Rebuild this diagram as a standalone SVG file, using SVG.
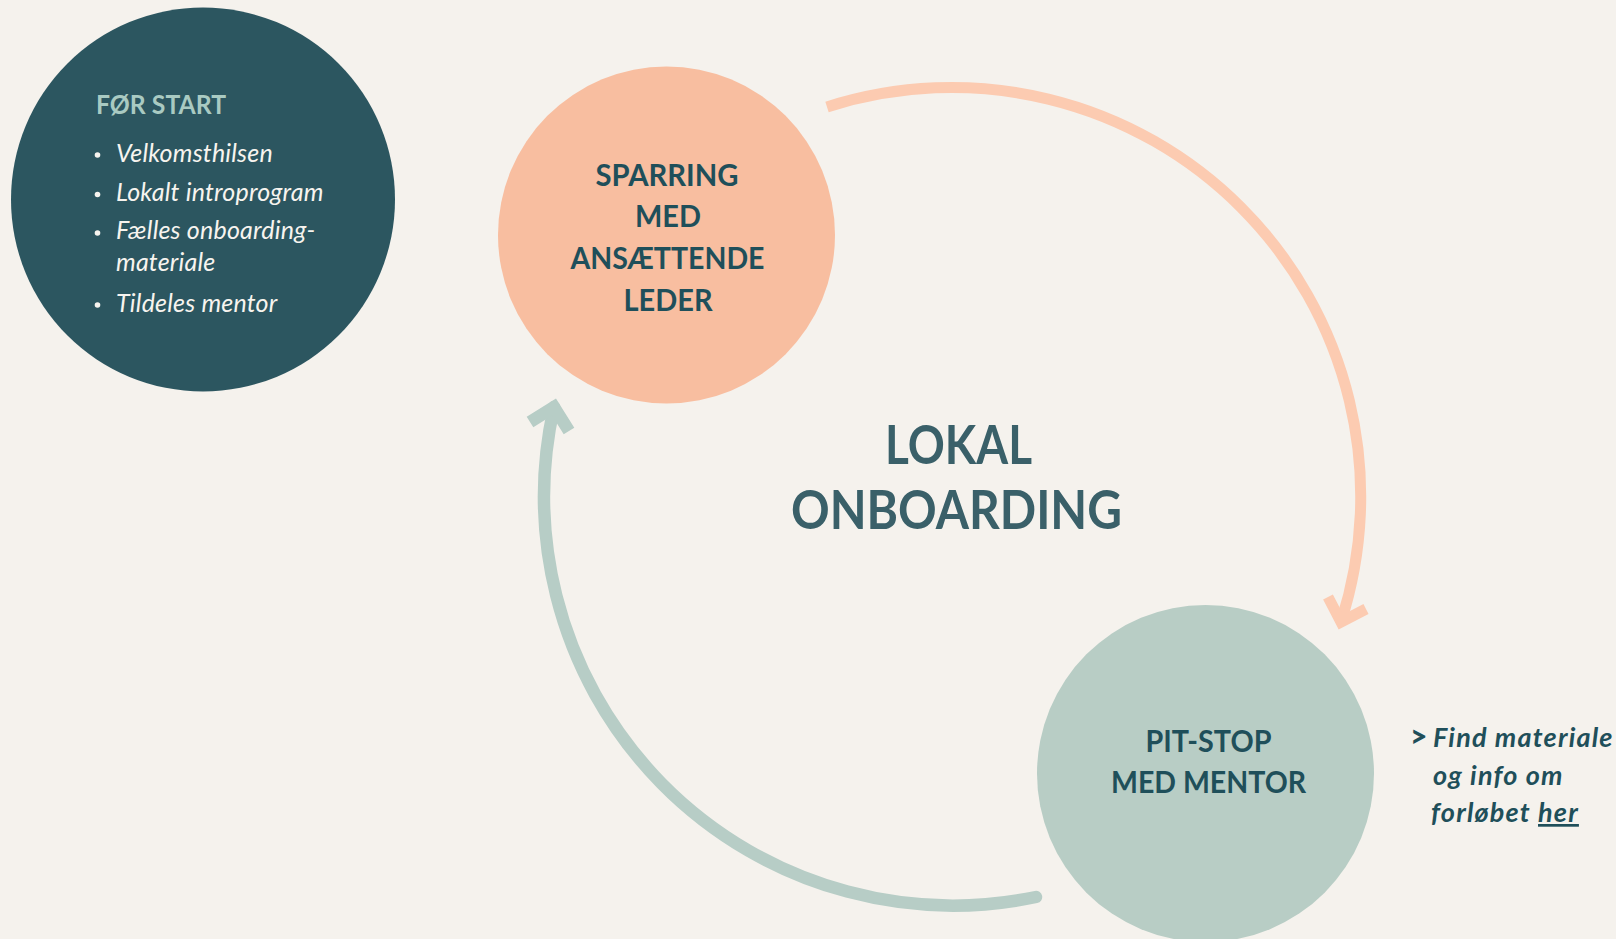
<svg xmlns="http://www.w3.org/2000/svg" width="1616" height="939" viewBox="0 0 1616 939">
<defs>
<style>
.lbl{font-family:Lato,"Open Sans","DejaVu Sans",sans-serif;font-weight:700;fill:#1f4f5a;text-anchor:middle}
.node31{font-size:31px}
.title{font-family:Lato,"Open Sans","DejaVu Sans",sans-serif;font-weight:700;font-size:53px;fill:#3a6069;text-anchor:middle}
.head{font-family:Lato,"Open Sans","DejaVu Sans",sans-serif;font-weight:700;font-size:26px;fill:#a9cac2}
.item{font-family:Lato,"Open Sans","DejaVu Sans",sans-serif;font-style:italic;font-size:25px;letter-spacing:0.2px;fill:#f7f4ef}
.note{font-family:Lato,"Open Sans","DejaVu Sans",sans-serif;font-style:italic;font-weight:700;font-size:27px;letter-spacing:1.2px;fill:#1f4f5a}
.chev{font-family:Lato,"Open Sans","DejaVu Sans",sans-serif;font-weight:900;font-size:30px;fill:#1f4f5a}
</style>
</defs>
<rect width="1616" height="939" fill="#f5f2ed"/>
<g id="connectors" fill="none" stroke-linejoin="miter">
  <g id="arc-sparring-to-pitstop" stroke="#fccbb1" stroke-width="11">
    <path d="M827 107 A409 409 0 0 1 1341 622"/>
    <polyline points="1328,597 1341,622 1366,609"/>
  </g>
  <g id="arc-pitstop-to-sparring" stroke="#b7cdc6" stroke-width="12.5">
    <path d="M1036 897 A409 409 0 0 1 554 407" stroke-linecap="round"/>
    <polyline points="530,422 554,407 569,431"/>
  </g>
</g>
<g id="node-foer-start">
  <circle cx="203" cy="199.5" r="192" fill="#2c5660"/>
  <text class="head" x="96" y="114" textLength="130" lengthAdjust="spacingAndGlyphs">FØR START</text>
  <g fill="#f7f4ef">
    <circle cx="97.5" cy="155" r="2.8"/>
    <circle cx="97.5" cy="194.5" r="2.8"/>
    <circle cx="97.5" cy="233" r="2.8"/>
    <circle cx="97.5" cy="305" r="2.8"/>
  </g>
  <text class="item" x="116" y="162">Velkomsthilsen</text>
  <text class="item" x="116" y="201">Lokalt introprogram</text>
  <text class="item" x="116" y="239">Fælles onboarding-</text>
  <text class="item" x="116" y="271">materiale</text>
  <text class="item" x="116" y="312">Tildeles mentor</text>
</g>
<g id="node-sparring">
  <circle cx="666.5" cy="235" r="168.5" fill="#f8bea0"/>
  <text class="lbl node31" x="667" y="186" textLength="143" lengthAdjust="spacingAndGlyphs">SPARRING</text>
  <text class="lbl node31" x="668" y="227" textLength="66" lengthAdjust="spacingAndGlyphs">MED</text>
  <text class="lbl node31" x="667.5" y="269" textLength="194" lengthAdjust="spacingAndGlyphs">ANSÆTTENDE</text>
  <text class="lbl node31" x="668" y="311" textLength="89" lengthAdjust="spacingAndGlyphs">LEDER</text>
</g>
<g id="node-pitstop">
  <circle cx="1205.5" cy="773.5" r="168.5" fill="#b8cdc5"/>
  <text class="lbl node31" x="1208.5" y="752" textLength="126" lengthAdjust="spacingAndGlyphs">PIT-STOP</text>
  <text class="lbl node31" x="1208.5" y="793" textLength="195" lengthAdjust="spacingAndGlyphs">MED MENTOR</text>
</g>
<g id="center-title">
  <text class="title" x="958.5" y="464" textLength="147" lengthAdjust="spacingAndGlyphs">LOKAL</text>
  <text class="title" x="956.5" y="529" textLength="331" lengthAdjust="spacingAndGlyphs">ONBOARDING</text>
</g>
<g id="note-link">
  <text class="chev" x="1410" y="747">&gt;</text>
  <text class="note" x="1433" y="747">Find materiale</text>
  <text class="note" x="1433" y="785">og info om</text>
  <text class="note" x="1431" y="822">forløbet <tspan text-decoration="underline">her</tspan></text>
</g>
</svg>
